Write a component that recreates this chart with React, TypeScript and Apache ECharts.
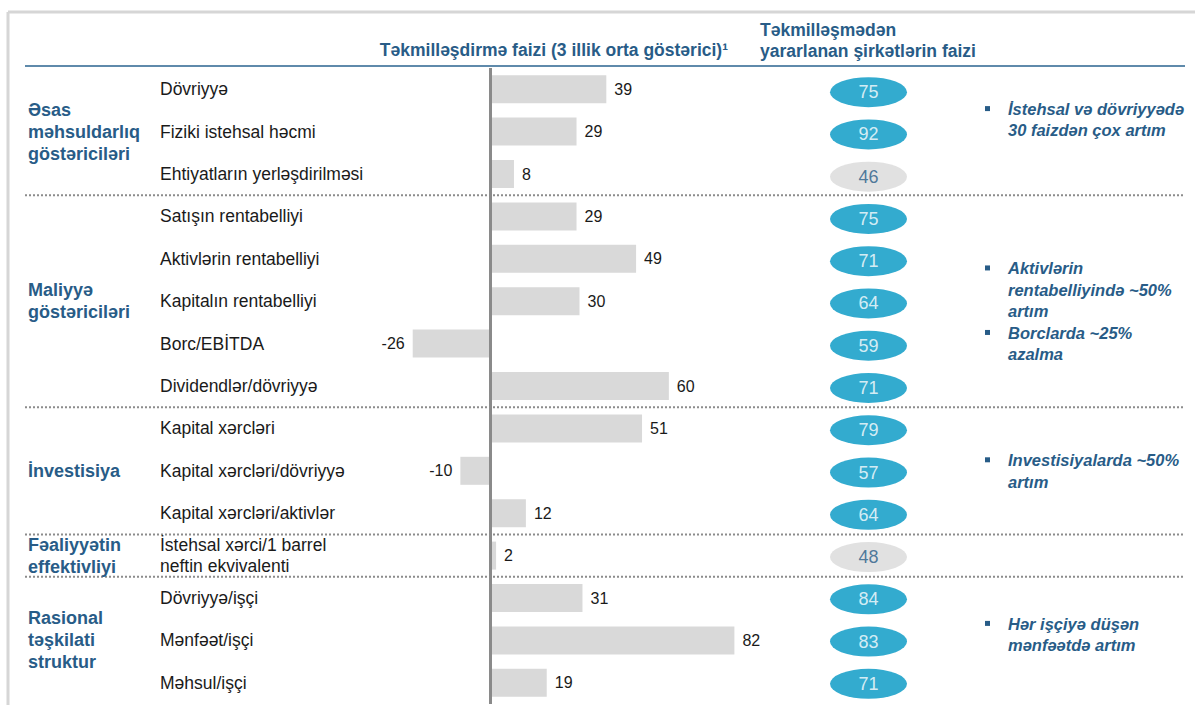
import React, { useEffect, useRef } from "react";
import * as echarts from "echarts";

const categories = [
  "Dövriyyə",
  "Fiziki istehsal həcmi",
  "Ehtiyatların yerləşdirilməsi",
  "Satışın rentabelliyi",
  "Aktivlərin rentabelliyi",
  "Kapitalın rentabelliyi",
  "Borc/EBİTDA",
  "Dividendlər/dövriyyə",
  "Kapital xərcləri",
  "Kapital xərcləri/dövriyyə",
  "Kapital xərcləri/aktivlər",
  "İstehsal xərci/1 barrel\nneftin ekvivalenti",
  "Dövriyyə/işçi",
  "Mənfəət/işçi",
  "Məhsul/işçi",
];

const improvementPct = [39, 29, 8, 29, 49, 30, -26, 60, 51, -10, 12, 2, 31, 82, 19];
const companiesPct = [75, 92, 46, 75, 71, 64, 59, 71, 79, 57, 64, 48, 84, 83, 71];

const groupNames = [
  "Əsas\nməhsuldarlıq\ngöstəriciləri",
  "Maliyyə\ngöstəriciləri",
  "İnvestisiya",
  "Fəaliyyətin\neffektivliyi",
  "Rasional\ntəşkilati\nstruktur",
];
const groupSizes = [3, 5, 3, 1, 3];

const notes = [
  { group: 0, shift: -12, items: ["İstehsal və dövriyyədə\n30 faizdən çox artım"] },
  { group: 1, shift: 10, items: ["Aktivlərin\nrentabelliyində ~50%\nartım", "Borclarda ~25%\nazalma"] },
  { group: 2, shift: 0, items: ["Investisiyalarda ~50%\nartım"] },
  { group: 4, shift: -6, items: ["Hər işçiyə düşən\nmənfəətdə artım"] },
];

const headerLeft = "Təkmilləşdirmə faizi (3 illik orta göstərici)¹";
const headerRight = "Təkmilləşmədən\nyararlanan şirkətlərin faizi";

const FONT = '"Liberation Sans", Arial, sans-serif';
const BLUE_TEXT = "#285c87";
const ELLIPSE_BLUE = "#0096c3";
const GRAY = "#d9d9d9";
const ELLIPSE = "path://M0,15 A38,15 0 1,1 76,15 A38,15 0 1,1 0,15 Z";

export default function App() {
  const ref = useRef<HTMLDivElement>(null);

  useEffect(() => {
    const chart = echarts.init(ref.current!, null, { renderer: "svg" });
    const top = 68;
    const step = 42.4;
    const height = step * categories.length;
    const rowY = (i: number) => top + (i + 0.5) * step;

    const graphics: any[] = [];
    // frame
    graphics.push({ type: "line", shape: { x1: 8, y1: 12, x2: 1195, y2: 12 }, style: { stroke: "#d6d6d6", lineWidth: 3 } });
    graphics.push({ type: "line", shape: { x1: 8, y1: 12, x2: 8, y2: 705 }, style: { stroke: "#d6d6d6", lineWidth: 3 } });
    // header line
    graphics.push({ type: "line", shape: { x1: 25, y1: 66, x2: 1185, y2: 66 }, style: { stroke: "#5f8aab", lineWidth: 2 } });
    graphics.push({
      type: "text", x: 728, y: 50,
      style: { text: headerLeft, align: "right", verticalAlign: "middle", fill: BLUE_TEXT, font: `bold 17.5px ${FONT}` },
    });
    graphics.push({
      type: "text", x: 760, y: 40,
      style: { text: headerRight, align: "left", verticalAlign: "middle", lineHeight: 21, fill: BLUE_TEXT, font: `bold 17.5px ${FONT}` },
    });

    // separators and group labels
    let start = 0;
    groupSizes.forEach((size, g) => {
      const end = start + size;
      if (g < groupSizes.length - 1) {
        const y = top + end * step;
        graphics.push({
          type: "line", shape: { x1: 25, y1: y, x2: 1185, y2: y },
          style: { stroke: "#8c8c8c", lineWidth: 2, lineDash: [2, 2] },
        });
      }
      const cy = (rowY(start) + rowY(end - 1)) / 2;
      graphics.push({
        type: "text", x: 28, y: cy,
        style: { text: groupNames[g], align: "left", verticalAlign: "middle", lineHeight: 22, fill: BLUE_TEXT, font: `bold 18px ${FONT}` },
      });
      const note = notes.find((n) => n.group === g);
      if (note) {
        const lh = 21.5;
        const lines = note.items.reduce((a, t) => a + t.split("\n").length, 0);
        let y0 = cy + note.shift - (lines * lh) / 2;
        note.items.forEach((t) => {
          const n = t.split("\n").length;
          graphics.push({ type: "rect", shape: { x: 985, y: y0 + 8, width: 5, height: 5 }, style: { fill: BLUE_TEXT } });
          graphics.push({
            type: "text", x: 1008, y: y0,
            style: { text: t, align: "left", verticalAlign: "top", lineHeight: lh, fill: BLUE_TEXT, font: `italic bold 16.5px ${FONT}` },
          });
          y0 += n * lh;
        });
      }
      start = end;
    });

    const option: any = {
      animation: false,
      graphic: graphics,
      grid: [
        { left: 371, width: 417, top, height },
        { left: 830, width: 77, top: top + 3, height },
      ],
      xAxis: [
        { type: "value", gridIndex: 0, min: -40, max: 100, show: false },
        { type: "value", gridIndex: 1, min: -1, max: 1, show: false },
      ],
      yAxis: [
        {
          type: "category", gridIndex: 0, data: categories, inverse: true,
          axisLine: { show: false }, axisTick: { show: false }, splitLine: { show: false },
          axisLabel: { align: "left", margin: 211, color: "#1a1a1a", fontSize: 17.5, fontFamily: FONT, lineHeight: 21 },
        },
        { type: "category", gridIndex: 1, data: categories, inverse: true, show: false },
      ],
      series: [
        {
          type: "bar", xAxisIndex: 0, yAxisIndex: 0, barWidth: 28,
          itemStyle: { color: GRAY },
          data: improvementPct.map((v) => ({ value: v, label: { position: v < 0 ? "left" : "right" } })),
          label: { show: true, distance: 8, color: "#1a1a1a", fontSize: 16, fontFamily: FONT },
          markLine: {
            silent: true, symbol: "none", label: { show: false },
            lineStyle: { color: "#8a8a8a", width: 3, type: "solid" },
            data: [{ xAxis: 0 }],
          },
        },
        {
          type: "scatter", xAxisIndex: 1, yAxisIndex: 1, symbol: ELLIPSE, symbolSize: [77, 30],
          data: companiesPct.map((v, i) => ({
            value: [0, i],
            itemStyle: { color: v < 50 ? GRAY : ELLIPSE_BLUE },
            label: { color: v < 50 ? BLUE_TEXT : "#ffffff" },
          })),
          label: {
            show: true, position: "inside", fontSize: 18, fontFamily: FONT,
            formatter: (p: any) => String(companiesPct[p.dataIndex]),
          },
        },
      ],
    };
    chart.setOption(option);
    return () => chart.dispose();
  }, []);

  return (
    <div
      ref={ref}
      style={{ position: "absolute", left: 0, top: 0, width: 1195, height: 705, background: "#fff" }}
    />
  );
}
